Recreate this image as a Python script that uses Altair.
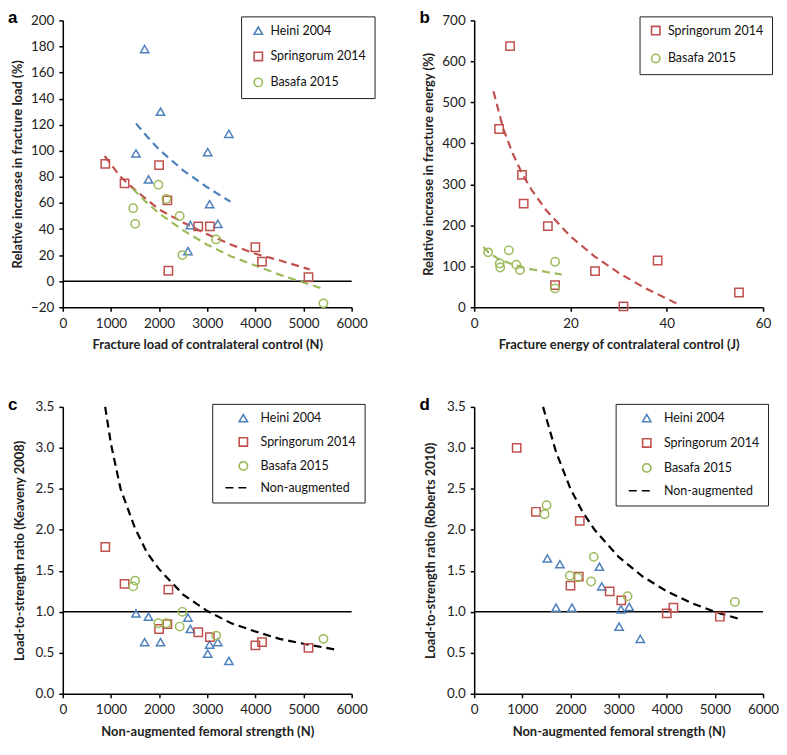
import altair as alt
import pandas as pd

# ---------------- data ----------------
HEINI, SPR, BAS, NON = "Heini 2004", "Springorum 2014", "Basafa 2015", "Non-augmented"
COLORS = ["#4F81BD", "#C0504D", "#9BBB59"]
SHAPES = ["triangle-up", "square", "circle"]

# non-augmented femoral strength / fracture load of control (N)
heini_x = [1520, 1780, 1700, 2030, 2600, 2650, 3050, 3010, 3220, 3450]
spr_x = [883, 1283, 2000, 2172, 2193, 2814, 3055, 4000, 4138, 5103]
bas_x = [1986, 2152, 1462, 1503, 2428, 2483, 3186, 5414]

# panel a: relative increase in fracture load (%)
heini_a = [98, 78, 178, 130, 23, 43, 59, 99, 44, 113]
spr_a = [90, 75, 89, 62, 8, 42, 42, 26, 15, 3]
bas_a = [74, 63, 56, 44, 50, 20, 32, -17]

# panel a trend lines
heini_fit_a_x = [1520, 1750, 2000, 2500, 3000, 3480]
heini_fit_a_y = [121, 111, 101, 85, 72, 61]
spr_fit_a_x = [870, 1200, 1500, 2000, 2500, 3000, 3500, 4000, 4500, 5130]
spr_fit_a_y = [96, 80, 70, 55, 45, 36, 28, 21, 16, 9]
bas_fit_a_x = [1450, 1750, 2000, 2500, 3000, 3500, 4000, 4500, 5000, 5420]
bas_fit_a_y = [71, 60, 52, 39, 28, 19, 12, 5, -1, -6]

# panel b: fracture energy (J) vs relative increase in fracture energy (%)
spr_b_x = [7.45, 5.17, 9.93, 10.28, 15.3, 25.1, 38.1, 55.0, 31.0, 16.8]
spr_b_y = [637, 435, 323, 253, 198, 88, 114, 36, 2, 54]
bas_b_x = [2.9, 7.2, 5.3, 5.4, 8.75, 9.5, 16.8, 16.8]
bas_b_y = [134, 139, 107, 97, 104, 91, 111, 46]

spr_fit_b_x = [4, 6, 8, 10, 12, 15, 20, 25, 30, 35, 42.6]
spr_fit_b_y = [527, 437, 375, 325, 285, 236, 173, 124, 84, 50, 6]
bas_fit_b_x = [1.9, 3, 5, 7.5, 10, 15, 18.2]
bas_fit_b_y = [147, 134, 118, 107, 97, 86, 80]

# panel c: load-to-strength ratio (Keaveny 2008)
heini_c = [0.98, 0.94, 0.63, 0.63, 0.93, 0.79, 0.60, 0.49, 0.63, 0.40]
spr_c = [1.79, 1.34, 0.79, 0.85, 1.27, 0.75, 0.69, 0.59, 0.63, 0.56]
bas_c = [0.86, 0.86, 1.31, 1.38, 0.82, 1.00, 0.71, 0.67]
non_c_x = [880, 1000, 1200, 1500, 1750, 2000, 2500, 3000, 3500, 4000, 4500, 5000, 5650]
non_c_y = [3.5, 3.05, 2.5, 2.02, 1.72, 1.52, 1.21, 1.01, 0.86, 0.76, 0.67, 0.61, 0.54]

# panel d: load-to-strength ratio (Roberts 2010)
heini_d = [1.65, 1.58, 1.05, 1.05, 1.55, 1.31, 1.03, 0.82, 1.06, 0.67]
spr_d = [3.0, 2.22, 1.32, 1.43, 2.11, 1.25, 1.14, 0.98, 1.05, 0.94]
bas_d = [1.44, 1.42, 2.19, 2.30, 1.37, 1.67, 1.19, 1.12]
non_d_x = [1430, 1700, 2000, 2250, 2500, 3000, 3500, 4000, 4500, 5000, 5520]
non_d_y = [3.5, 2.95, 2.5, 2.22, 2.0, 1.67, 1.43, 1.25, 1.11, 1.0, 0.91]


def frame(series_xy, colmap=None):
    rows = []
    for name, xs, ys in series_xy:
        for x, y in zip(xs, ys):
            r = {"series": name, "x": x, "y": y}
            if colmap:
                r["col"] = colmap[name]
            rows.append(r)
    return pd.DataFrame(rows)


FONT = "Lato"
CMAP = {HEINI: COLORS[0], SPR: COLORS[1], BAS: COLORS[2]}


def legend(x, y, row_pad, sym_off, lab_off):
    return alt.Legend(
        title=None, orient="none", legendX=x, legendY=y,
        strokeColor="#222", fillColor="white", padding=8,
        rowPadding=row_pad, symbolSize=70, symbolStrokeWidth=1.6,
        symbolOffset=sym_off, labelOffset=lab_off,
        labelFont=FONT, labelFontSize=12.5, labelColor="#111",
    )


def panel(label, pts, fits, dom, xscale, yscale, xaxis, yaxis, leg,
          refline=None, fit_in_legend=False):
    n = len(dom)
    colors = COLORS[:3] if n >= 3 else COLORS[1:3]
    shapes = SHAPES[:3] if n >= 3 else SHAPES[1:3]
    if fit_in_legend:
        colors = colors + ["black"]
        shapes = shapes + ["M-4.3,0H1.9"]
    cscale = alt.Scale(domain=dom, range=colors)
    sscale = alt.Scale(domain=dom, range=shapes)
    x = alt.X("x:Q", scale=xscale, axis=xaxis)
    y = alt.Y("y:Q", scale=yscale, axis=yaxis)

    layers = []
    if refline is not None:
        layers.append(
            alt.Chart(pd.DataFrame({"y": [refline]}))
            .mark_rule(color="black", strokeWidth=1.5)
            .encode(y=alt.Y("y:Q", scale=yscale, axis=yaxis))
        )
    if fit_in_legend:
        dscale = alt.Scale(domain=dom, range=[[1, 0]] * (n - 1) + [[8, 5]])
        layers.append(
            alt.Chart(fits).mark_line(strokeWidth=2.2)
            .encode(x=x, y=y,
                    color=alt.Color("series:N", scale=cscale, legend=leg),
                    strokeDash=alt.StrokeDash("series:N", scale=dscale, legend=leg))
        )
    else:
        layers.append(
            alt.Chart(fits).mark_line(strokeWidth=2.2, strokeDash=[8, 5])
            .encode(x=x, y=y, detail="series:N",
                    color=alt.Color("col:N", scale=None, legend=None))
        )
    layers.append(
        alt.Chart(pts).mark_point(filled=False, size=70, strokeWidth=1.5, opacity=1)
        .encode(x=x, y=y,
                color=alt.Color("series:N", scale=cscale, legend=leg),
                shape=alt.Shape("series:N", scale=sscale, legend=leg))
    )
    lay = alt.layer(*layers)
    if not fit_in_legend:
        lay = lay.resolve_scale(color="independent", shape="independent")
    return lay.properties(
        width=290, height=288,
        title=alt.TitleParams(label, anchor="start", frame="group", dx=-55,
                              dy=17, offset=3, fontSize=17, font="Arial",
                              fontWeight="bold", color="black"),
    )


def axis(title, values, fmt=None, pad=9):
    kw = dict(title=title, values=values, titlePadding=pad)
    if fmt:
        kw["format"] = fmt
    return alt.Axis(**kw)


dom3 = [HEINI, SPR, BAS]
dom2 = [SPR, BAS]
dom4 = [HEINI, SPR, BAS, NON]

xs_N = alt.Scale(domain=[0, 6000], nice=False, zero=False)
xticks_N = [0, 1000, 2000, 3000, 4000, 5000, 6000]
ratio_scale = alt.Scale(domain=[0, 3.5], nice=False)
ratio_ticks = [0, 0.5, 1.0, 1.5, 2.0, 2.5, 3.0, 3.5]

pa = panel(
    "a",
    frame([(HEINI, heini_x, heini_a), (SPR, spr_x, spr_a), (BAS, bas_x, bas_a)]),
    frame([(HEINI, heini_fit_a_x, heini_fit_a_y), (SPR, spr_fit_a_x, spr_fit_a_y),
           (BAS, bas_fit_a_x, bas_fit_a_y)], CMAP),
    dom3, xs_N, alt.Scale(domain=[-20, 200], nice=False),
    axis("Fracture load of contralateral control (N)", xticks_N, "d"),
    axis("Relative increase in fracture load  (%)", list(range(-20, 201, 20)), "d", pad=6),
    legend(179, -4, 10, 3, 6), refline=0,
)

pb = panel(
    "b",
    frame([(SPR, spr_b_x, spr_b_y), (BAS, bas_b_x, bas_b_y)]),
    frame([(SPR, spr_fit_b_x, spr_fit_b_y), (BAS, bas_fit_b_x, bas_fit_b_y)], CMAP),
    dom2, alt.Scale(domain=[0, 60], nice=False), alt.Scale(domain=[0, 700], nice=False),
    axis("Fracture energy of contralateral control (J)", [0, 20, 40, 60], "d"),
    axis("Relative increase in fracture energy  (%)", list(range(0, 701, 100)), "d", pad=6),
    legend(166, -4, 12, 2, 6),
)

pc = panel(
    "c",
    frame([(HEINI, heini_x, heini_c), (SPR, spr_x, spr_c), (BAS, bas_x, bas_c)]),
    frame([(NON, non_c_x, non_c_y)]),
    dom4, xs_N, ratio_scale,
    axis("Non-augmented femoral strength (N)", xticks_N, "d"),
    axis("Load-to-strength ratio (Keaveny 2008)", ratio_ticks, ".1f", pad=9),
    legend(150, -3, 8, 17, 11), refline=1.0, fit_in_legend=True,
)

pd_ = panel(
    "d",
    frame([(HEINI, heini_x, heini_d), (SPR, spr_x, spr_d), (BAS, bas_x, bas_d)]),
    frame([(NON, non_d_x, non_d_y)]),
    dom4, xs_N, ratio_scale,
    axis("Non-augmented femoral strength (N)", xticks_N, "d"),
    axis("Load-to-strength ratio (Roberts 2010)", ratio_ticks, ".1f", pad=9),
    legend(142, -3, 9, 17, 11), refline=1.0, fit_in_legend=True,
)

chart = (
    alt.concat(pa, pb, pc, pd_, columns=2, spacing={"row": 100, "column": 123},
               bounds="flush")
    .resolve_scale(color="independent", shape="independent",
                   strokeDash="independent")
    .resolve_legend(color="independent", shape="independent",
                    strokeDash="independent")
    .configure_view(stroke=None)
    .configure_axis(
        grid=False, domainColor="black", domainWidth=1.5, tickColor="black",
        tickWidth=1.5, tickSize=4, labelPadding=5, labelFont=FONT,
        labelFontSize=13.5, labelColor="#222", titleFont=FONT, titleFontSize=13,
        titleFontWeight="bold", titleColor="#222", labelFlush=False,
    )
    .properties(background="white", padding=0)
)

chart.save("out.html", embed_options={"renderer": "svg", "actions": False})
